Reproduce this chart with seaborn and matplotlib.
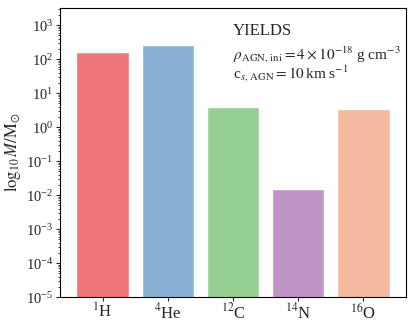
import pandas as pd
import seaborn as sns
import matplotlib.pyplot as plt
from matplotlib.ticker import LogLocator, NullFormatter

sns.set_style("ticks")
plt.rcParams["font.family"] = ["Liberation Serif", "DejaVu Serif"]
plt.rcParams["mathtext.fontset"] = "stix"
plt.rcParams["font.size"] = 11

# Данные
elements = [r"$^{1}$H", r"$^{4}$He", r"$^{12}$C", r"$^{14}$N", r"$^{16}$O"]
masses = [160, 260, 3.9, 0.015, 3.5]
colors = ["#ee7678", "#8ab1d5", "#96d092", "#c194c8", "#f5b9a0"]

df = pd.DataFrame({"element": elements, "mass": masses})

fig = plt.figure(figsize=(4.15, 3.23), dpi=100)
ax = fig.add_axes([0.145, 0.08, 0.833, 0.895])

sns.barplot(data=df, x="element", y="mass", hue="element", palette=colors,
            legend=False, width=0.8, saturation=1, ax=ax)
ax.set_yscale("log")
ax.set_ylim(1e-5, 10**3.5)
ax.set_xlim(-0.65, 4.65)
ax.yaxis.set_major_locator(LogLocator(base=10, numticks=20))
ax.yaxis.set_minor_locator(LogLocator(base=10, subs=range(2, 10), numticks=20))
ax.yaxis.set_minor_formatter(NullFormatter())
ax.set_xlabel("")
ax.set_ylabel(r"$\log_{10}M/\mathrm{M}_{\odot}$", fontsize=12, labelpad=2)
ax.tick_params(axis="y", labelsize=10.5, pad=2, length=3)
ax.tick_params(axis="y", which="minor", length=1.5)
ax.tick_params(axis="x", labelsize=12, pad=1, length=3)

for s in ax.spines.values():
    s.set_color("black")
    s.set_linewidth(0.8)

ax.text(0.499, 0.907, "YIELDS", transform=ax.transAxes, fontsize=12,
        va="baseline")
ax.text(0.499, 0.824, r"$\rho_{\rm AGN,\,ini} = 4 \times 10^{-18}$ g cm$^{-3}$",
        transform=ax.transAxes, fontsize=11, va="baseline")
ax.text(0.499, 0.758, r"c$_{s,\,\rm AGN} = 10\,$km s$^{-1}$",
        transform=ax.transAxes, fontsize=11, va="baseline")

plt.savefig("out.png", dpi=100)
